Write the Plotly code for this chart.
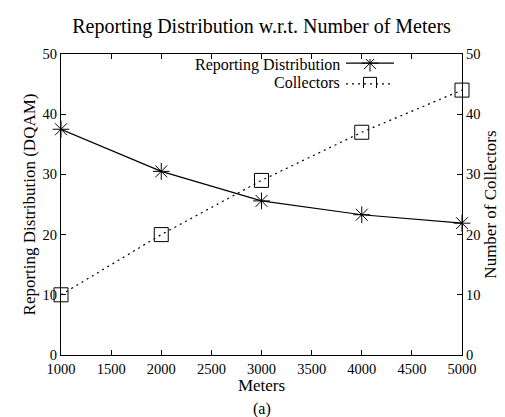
import plotly.graph_objects as go

meters = [1000, 2000, 3000, 4000, 5000]
reporting = [37.5, 30.5, 25.6, 23.3, 21.9]
collectors = [10, 20, 29, 37, 44]
x_ticks = [1000, 1500, 2000, 2500, 3000, 3500, 4000, 4500, 5000]
y_ticks = [0, 10, 20, 30, 40, 50]
series_names = ["Reporting Distribution", "Collectors"]

FONT = "Liberation Serif"
BLACK = "#000000"

fig = go.Figure()
fig.add_trace(go.Scatter(
    x=meters, y=reporting, name=series_names[0], mode="lines+markers",
    line=dict(color=BLACK, width=1.2),
    marker=dict(symbol="asterisk-open", size=14, color=BLACK, line=dict(color=BLACK, width=1)),
    showlegend=False, cliponaxis=False))
fig.add_trace(go.Scatter(
    x=meters, y=collectors, name=series_names[1], mode="lines+markers", yaxis="y2",
    line=dict(color=BLACK, width=1.2, dash="2px,4px"),
    marker=dict(symbol="square-open", size=14, color=BLACK, line=dict(color=BLACK, width=1)),
    showlegend=False, cliponaxis=False))

# legend samples (symbol to the right of the text, gnuplot style)
leg_x = [0, 0.5, 1]
fig.add_trace(go.Scatter(
    x=leg_x, y=[1, 1, 1], xaxis="x3", yaxis="y3", mode="lines",
    line=dict(color=BLACK, width=1.2), showlegend=False, hoverinfo="skip"))
fig.add_trace(go.Scatter(
    x=[0.5], y=[1], xaxis="x3", yaxis="y3", mode="markers",
    marker=dict(symbol="asterisk-open", size=14, color=BLACK, line=dict(color=BLACK, width=1)),
    showlegend=False, hoverinfo="skip"))
fig.add_trace(go.Scatter(
    x=leg_x, y=[0, 0, 0], xaxis="x3", yaxis="y3", mode="lines",
    line=dict(color=BLACK, width=1.2, dash="2px,4px"), showlegend=False, hoverinfo="skip"))
fig.add_trace(go.Scatter(
    x=[0.5], y=[0], xaxis="x3", yaxis="y3", mode="markers",
    marker=dict(symbol="square-open", size=13, color=BLACK, line=dict(color=BLACK, width=1)),
    showlegend=False, hoverinfo="skip"))

W, H = 505, 417
L, R, T, B = 53, 51, 46, 70
pw, ph = W - L - R, H - T - B

def px_x(px):
    return (px - L) / pw

def px_y(py):
    return (H - B - py) / ph

axis_common = dict(
    showgrid=False, zeroline=False, showline=True, linecolor=BLACK, linewidth=1.2,
    ticks="inside", ticklen=5, tickcolor=BLACK, tickwidth=1,
    tickfont=dict(family=FONT, size=14.5, color=BLACK),
)

ann = [
    dict(text=series_names[0], x=px_x(334), y=px_y(57), xref="paper", yref="paper",
         xanchor="right", yanchor="middle", showarrow=False,
         font=dict(family=FONT, size=16, color=BLACK)),
    dict(text=series_names[1], x=px_x(334), y=px_y(74), xref="paper", yref="paper",
         xanchor="right", yanchor="middle", showarrow=False,
         font=dict(family=FONT, size=16, color=BLACK)),
    dict(text="(a)", x=0.5, y=px_y(401), xref="paper", yref="paper", yanchor="middle",
         showarrow=False, font=dict(family=FONT, size=16, color=BLACK)),
]

fig.update_layout(
    width=W, height=H,
    margin=dict(l=L, r=R, t=T, b=B),
    paper_bgcolor="white", plot_bgcolor="white",
    title=dict(text="Reporting Distribution w.r.t. Number of Meters", x=0.5, xref="paper",
               y=1 - 18 / H, yanchor="middle",
               font=dict(family=FONT, size=20, color=BLACK)),
    xaxis=dict(**axis_common, range=[1000, 5000], tickvals=x_ticks, mirror="ticks",
               title=dict(text="Meters", standoff=1, font=dict(family=FONT, size=17, color=BLACK))),
    yaxis=dict(**axis_common, range=[0, 50], tickvals=y_ticks,
               title=dict(text="Reporting Distribution (DQAM)", standoff=2,
                          font=dict(family=FONT, size=17, color=BLACK))),
    yaxis2=dict(**axis_common, range=[0, 50], tickvals=y_ticks, overlaying="y", side="right",
                title=dict(text="Number of Collectors", standoff=4,
                           font=dict(family=FONT, size=17, color=BLACK))),
    xaxis3=dict(domain=[px_x(338), px_x(386)], range=[0, 1], visible=False, anchor="y3"),
    yaxis3=dict(domain=[px_y(80), px_y(51)], range=[-0.2, 1.2], visible=False, anchor="x3"),
    annotations=ann,
    showlegend=False,
)

fig.write_html("out.html")
